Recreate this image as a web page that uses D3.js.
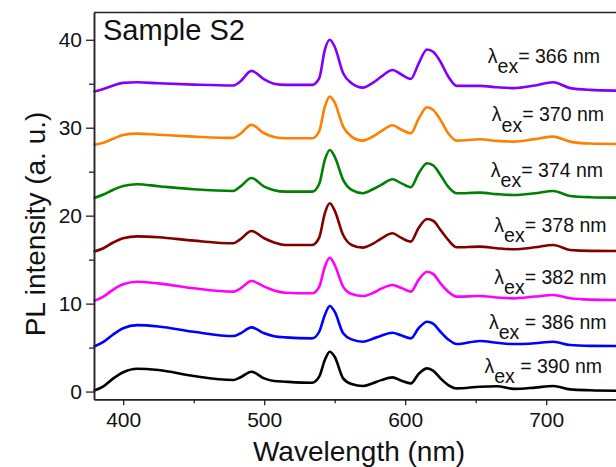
<!DOCTYPE html>
<html>
<head>
<meta charset="utf-8">
<script src="https://cdn.jsdelivr.net/npm/d3@7"></script>
<style>
  html, body { margin: 0; padding: 0; background: #fff; }
  svg { display: block; font-family: "Liberation Sans", Arial, sans-serif; }
</style>
</head>
<body>
<svg id="chart" width="616" height="467"></svg>
<script>
// ---- data ----
const wavelengths = [379, 386, 393, 400, 410, 425, 450, 478, 483, 491, 500, 507, 515, 534, 539, 543, 546.5, 550, 556, 562, 570, 577, 583, 591, 597, 604, 609.5, 615.5, 620, 625, 630.5, 636.5, 653, 665, 677, 692, 705, 717, 731, 750];

const s366 = [34.1, 34.4, 34.8, 35.1, 35.17, 35.05, 34.9, 34.8, 35.25, 36.46, 35.5, 35.0, 34.87, 34.87, 35.6, 38.85, 40.0, 39.2, 36.2, 35.06, 34.56, 35.1, 35.8, 36.57, 36.08, 35.55, 37.3, 38.9, 38.6, 37.5, 35.83, 34.76, 34.76, 34.6, 34.5, 34.8, 35.17, 34.5, 34.3, 34.22];
const s370 = [28.04, 28.3, 28.75, 29.18, 29.33, 29.2, 28.99, 28.84, 29.3, 30.32, 29.37, 28.95, 28.8, 28.8, 29.6, 32.4, 33.54, 32.86, 30.13, 28.99, 28.53, 29.0, 29.6, 30.28, 29.8, 29.37, 31.0, 32.33, 32.0, 30.89, 29.37, 28.53, 28.68, 28.5, 28.42, 28.7, 28.99, 28.42, 28.2, 28.15];
const s374 = [21.98, 22.4, 22.95, 23.38, 23.57, 23.35, 23.0, 22.81, 23.3, 24.29, 23.3, 22.9, 22.73, 22.73, 23.6, 26.34, 27.47, 26.72, 24.07, 22.93, 22.55, 23.0, 23.5, 24.14, 23.7, 23.23, 24.8, 25.96, 25.7, 24.63, 23.3, 22.55, 22.62, 22.45, 22.35, 22.55, 22.81, 22.24, 22.1, 22.05];
const s378 = [15.9, 16.3, 16.95, 17.43, 17.65, 17.55, 17.16, 16.86, 17.3, 18.26, 17.43, 16.95, 16.67, 16.67, 17.5, 20.27, 21.41, 20.57, 17.8, 16.67, 16.37, 16.8, 17.4, 18.0, 17.5, 17.05, 18.6, 19.62, 19.4, 18.38, 17.24, 16.41, 16.48, 16.3, 16.18, 16.4, 16.67, 16.1, 16.0, 15.99];
const s382 = [10.3, 10.8, 11.6, 12.2, 12.49, 12.3, 11.74, 11.36, 11.7, 12.57, 11.93, 11.5, 11.24, 11.17, 11.9, 14.2, 15.22, 14.39, 11.93, 11.09, 10.86, 11.2, 11.7, 12.12, 11.8, 11.36, 12.7, 13.63, 13.35, 12.31, 11.36, 10.79, 10.86, 10.7, 10.6, 10.8, 10.98, 10.6, 10.45, 10.41];
const s386 = [5.1, 5.65, 6.5, 7.2, 7.55, 7.4, 6.8, 6.31, 6.6, 7.3, 6.62, 6.3, 6.16, 6.05, 6.8, 8.7, 9.73, 9.08, 6.62, 5.93, 5.67, 6.0, 6.35, 6.69, 6.4, 6.05, 7.2, 7.94, 7.7, 6.8, 5.93, 5.4, 5.75, 5.55, 5.4, 5.5, 5.67, 5.29, 5.2, 5.18];
const s390 = [0.09, 0.6, 1.5, 2.2, 2.6, 2.45, 1.76, 1.31, 1.6, 2.25, 1.5, 1.2, 1.12, 1.0, 1.69, 3.58, 4.53, 3.96, 1.5, 0.85, 0.63, 0.95, 1.3, 1.61, 1.25, 0.93, 2.0, 2.64, 2.35, 1.5, 0.74, 0.36, 0.55, 0.6, 0.3, 0.45, 0.63, 0.25, 0.15, 0.1];

const seriesNames = ["366", "370", "374", "378", "382", "386", "390"];
const seriesValues = [s366, s370, s374, s378, s382, s386, s390];
const seriesColors = ["#8000ff", "#ff8000", "#008000", "#800000", "#ff00ff", "#0000ff", "#000000"];
const labelSpaced = [false, false, false, false, false, true, true];

const yTicks = [0, 10, 20, 30, 40];
const yMinor = [5, 15, 25, 35];
const xTicks = [400, 500, 600, 700];
const xMinor = [450, 550, 650];

const xTitle = "Wavelength (nm)";
const yTitle = "PL intensity (a. u.)";
const sampleTitle = "Sample S2";

// ---- layout ----
const svg = d3.select("#chart");
const mLeft = 94, mRight = 616.7, mTop = 12.5, mBottom = 399.3;

const x = d3.scaleLinear().domain([379.3, 750]).range([mLeft, mRight]);
const y = d3.scaleLinear().domain([-0.88, 43.1]).range([mBottom, mTop]);

// curves
const line = d3.line()
  .x((d, i) => x(wavelengths[i]))
  .y(d => y(d))
  .curve(d3.curveMonotoneX);

svg.append("g").selectAll("path")
  .data(seriesValues)
  .join("path")
  .attr("d", d => line(d))
  .attr("fill", "none")
  .attr("stroke", (d, i) => seriesColors[i])
  .attr("stroke-width", 2.6)
  .attr("stroke-linejoin", "round");

// frame top
svg.append("line").attr("x1", mLeft).attr("x2", x(750) + 5).attr("y1", mTop).attr("y2", mTop)
  .attr("stroke", "#222").attr("stroke-width", 1.5);

// axes
const yAxis = d3.axisLeft(y).tickValues(yTicks).tickSize(8).tickSizeOuter(0).tickPadding(4);
const yAxisMinor = d3.axisLeft(y).tickValues(yMinor).tickSize(5).tickSizeOuter(0).tickFormat("");
const xAxis = d3.axisBottom(x).tickValues(xTicks).tickSize(6).tickSizeOuter(0).tickPadding(6.5);
const xAxisMinor = d3.axisBottom(x).tickValues(xMinor).tickSize(4).tickSizeOuter(0).tickFormat("");

function styleAxis(g) {
  g.selectAll("path").attr("stroke", "#222").attr("stroke-width", 1.5);
  g.selectAll("line").attr("stroke", "#222").attr("stroke-width", 1.3);
  g.selectAll("text").attr("fill", "#111").style("font-size", "21px")
    .style("font-family", '"Liberation Sans", Arial, sans-serif');
}

svg.append("g").attr("transform", `translate(${mLeft},0)`).call(yAxisMinor).call(styleAxis);
svg.append("g").attr("transform", `translate(${mLeft},0)`).call(yAxis).call(styleAxis);
svg.append("g").attr("transform", `translate(0,${mBottom})`).call(xAxisMinor).call(styleAxis);
svg.append("g").attr("transform", `translate(0,${mBottom})`).call(xAxis).call(styleAxis);

// titles
svg.append("text")
  .attr("x", 359).attr("y", 460.5)
  .attr("text-anchor", "middle")
  .style("font-size", "28px")
  .attr("fill", "#111")
  .text(xTitle);

svg.append("text")
  .attr("transform", "translate(45,224) rotate(-90)")
  .attr("text-anchor", "middle")
  .style("font-size", "28px")
  .attr("fill", "#111")
  .text(yTitle);

svg.append("text")
  .attr("x", 103).attr("y", 39.5)
  .style("font-size", "29px")
  .attr("fill", "#111")
  .text(sampleTitle);

// series labels
const labelRight = [600, 604, 603, 606.5, 606.5, 606.5, 602];
const labelBase = [62.5, 121, 176.5, 231.5, 283.5, 328.5, 372.5];

seriesNames.forEach((name, i) => {
  const t = svg.append("text")
    .attr("x", labelRight[i]).attr("y", labelBase[i])
    .attr("text-anchor", "end")
    .style("font-size", "19.5px")
    .attr("fill", "#111");
  t.append("tspan").text("λ");
  t.append("tspan").attr("dy", 10.5).text("ex");
  t.append("tspan").attr("dy", -10.5).text((labelSpaced[i] ? " = " : "= ") + name + " nm");
});
</script>
</body>
</html>
